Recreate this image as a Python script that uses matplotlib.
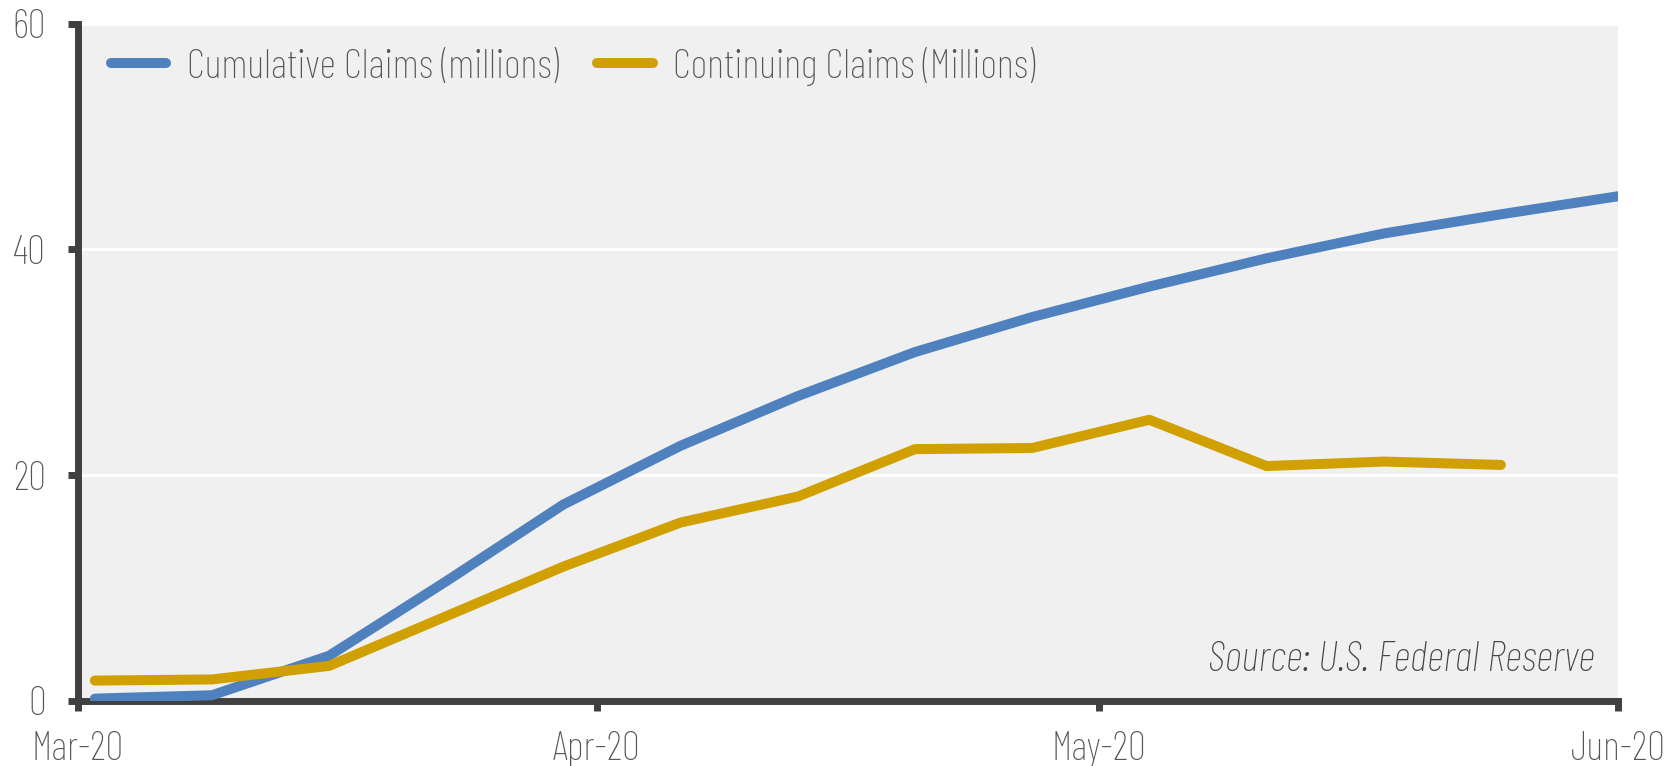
import datetime as dt
import matplotlib
matplotlib.use("Agg")
import matplotlib.pyplot as plt
import matplotlib.dates as mdates

# weekly data, millions
weeks = ["2020-03-02", "2020-03-09", "2020-03-16", "2020-03-23", "2020-03-30",
         "2020-04-06", "2020-04-13", "2020-04-20", "2020-04-27", "2020-05-04",
         "2020-05-11", "2020-05-18", "2020-05-25", "2020-06-01"]
cumulative = [0.2, 0.5, 4.0, 10.6, 17.4, 22.6, 27.0, 30.9, 34.0, 36.7,
              39.2, 41.4, 43.1, 44.7]
continuing = [1.8, 1.9, 3.1, 7.5, 11.9, 15.8, 18.1, 22.3, 22.4, 24.9,
              20.8, 21.2, 20.9]

dates = [dt.datetime.strptime(d, "%Y-%m-%d") for d in weeks]

plt.rcParams['font.family'] = ['Barlow Condensed', 'DejaVu Sans']
plt.rcParams['font.weight'] = 'light'

fig = plt.figure(figsize=(16.75, 7.66), dpi=100)
ax = fig.add_axes([0.0466, 0.085, 0.9194, 0.8843])
ax.set_facecolor('#f0f0f0')

ax.plot(dates, cumulative, color='#4e81bd', lw=7.2, solid_capstyle='round',
        solid_joinstyle='round', label='Cumulative Claims (millions)', zorder=3)
ax.plot(dates[:len(continuing)], continuing, color='#d0a000', lw=7.2,
        solid_capstyle='round', solid_joinstyle='round',
        label='Continuing Claims (Millions)', zorder=3)

ax.set_xlim(dt.datetime(2020, 3, 1), dt.datetime(2020, 6, 1))
ax.set_ylim(0, 60)
ax.set_yticks([0, 20, 40, 60])
ax.xaxis.set_major_locator(mdates.MonthLocator())
ax.xaxis.set_major_formatter(mdates.DateFormatter('%b-%y'))

ax.grid(axis='y', color='white', lw=2)
ax.set_axisbelow(True)
for s in ['top', 'right']:
    ax.spines[s].set_visible(False)
for s in ['left', 'bottom']:
    ax.spines[s].set_color('#404040')
    ax.spines[s].set_linewidth(5)
ax.tick_params(axis='both', color='#404040', width=5, length=7,
               labelcolor='#555555', labelsize=29)
ax.tick_params(axis='x', pad=15)
ax.tick_params(axis='y', pad=16)

leg = ax.legend(loc='upper left', ncol=2, frameon=False, fontsize=29.5,
                handlelength=1.35, handletextpad=0.5, columnspacing=0.95,
                bbox_to_anchor=(0.004, 1.005), borderaxespad=0.25)
for t in leg.get_texts():
    t.set_color('#555555')

ax.text(0.985, 0.06, 'Source: U.S. Federal Reserve', transform=ax.transAxes,
        ha='right', va='center', fontsize=31, style='italic', color='#444444')

fig.savefig('out.png')
